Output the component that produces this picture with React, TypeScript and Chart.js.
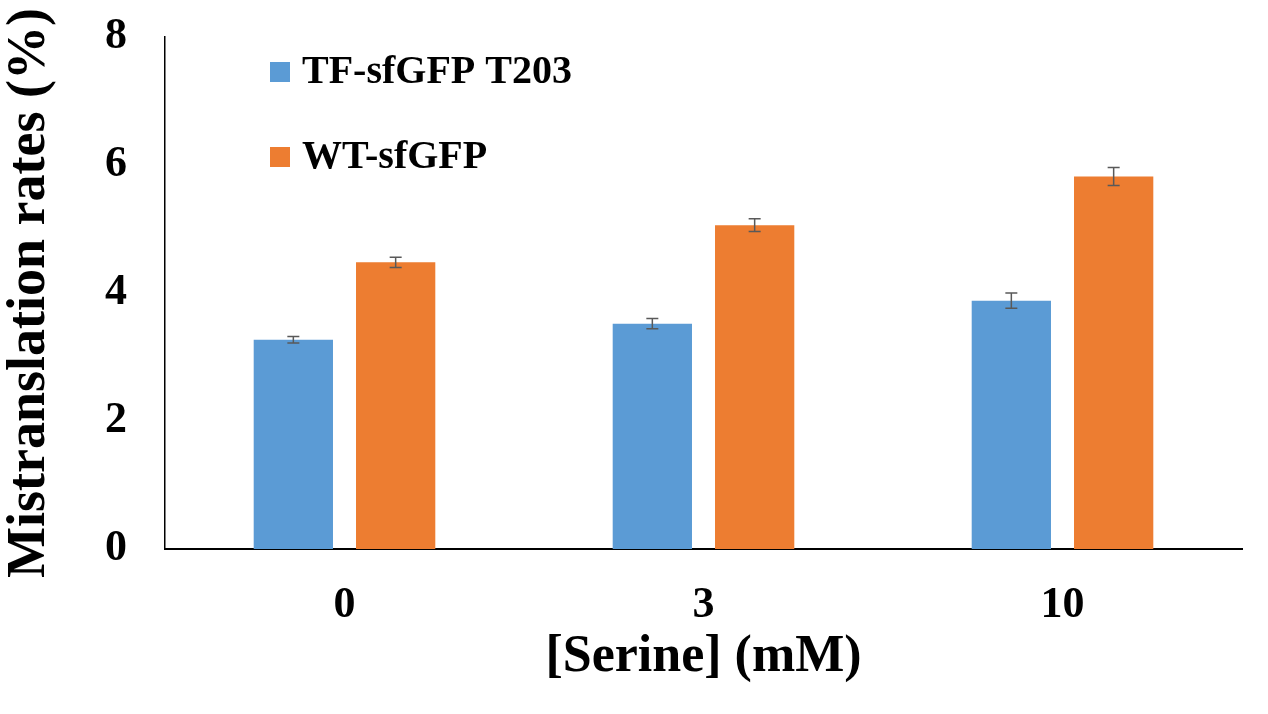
import React, { useRef, useEffect } from "react";
import { Chart, registerables } from "chart.js";

Chart.register(...registerables);

const categories = ["0", "3", "10"];
const seriesNames = ["TF-sfGFP T203", "WT-sfGFP"];
const tfValues = [3.27, 3.52, 3.88];
const tfErrors = [0.05, 0.08, 0.12];
const wtValues = [4.48, 5.06, 5.82];
const wtErrors = [0.08, 0.1, 0.14];
const yTicks = [0, 2, 4, 6, 8];

const FONT = "'Liberation Serif', 'Times New Roman', serif";

// barres d'erreur dessinées par-dessus les barres
const errorBarsPlugin = {
    id: "errorBars",
    afterDatasetsDraw(chart: any) {
        const ctx = chart.ctx;
        const y = chart.scales.y;
        chart.data.datasets.forEach((ds: any, i: number) => {
            const meta = chart.getDatasetMeta(i);
            const errs: number[] = ds.errors || [];
            meta.data.forEach((bar: any, j: number) => {
                const v = ds.data[j];
                const e = errs[j] || 0;
                const top = y.getPixelForValue(v + e);
                const bottom = y.getPixelForValue(v - e);
                const x = bar.x;
                ctx.save();
                ctx.strokeStyle = "#595959";
                ctx.lineWidth = 1.5;
                ctx.beginPath();
                ctx.moveTo(x, top);
                ctx.lineTo(x, bottom);
                ctx.moveTo(x - 6, top);
                ctx.lineTo(x + 6, top);
                ctx.moveTo(x - 6, bottom);
                ctx.lineTo(x + 6, bottom);
                ctx.stroke();
                ctx.restore();
            });
        });
    },
};

// légende verticale à l'intérieur du graphique
const insideLegendPlugin = {
    id: "insideLegend",
    afterDraw(chart: any) {
        const ctx = chart.ctx;
        const left = 270;
        const rows = [72, 157];
        ctx.save();
        ctx.font = `bold 40px ${FONT}`;
        ctx.textBaseline = "middle";
        chart.data.datasets.forEach((ds: any, i: number) => {
            const cy = rows[i];
            ctx.fillStyle = ds.backgroundColor;
            ctx.fillRect(left, cy - 10, 20, 20);
            ctx.fillStyle = "#000";
            ctx.fillText(ds.label, left + 32, cy + 1);
        });
        ctx.restore();
    },
};

const App: React.FC = () => {
    const chartRef = useRef<HTMLCanvasElement | null>(null);
    const chartInstanceRef = useRef<Chart | null>(null);

    useEffect(() => {
        if (!chartRef.current) return;
        if (chartInstanceRef.current) {
            chartInstanceRef.current.destroy();
        }

        chartInstanceRef.current = new Chart(chartRef.current, {
            type: "bar",
            data: {
                labels: categories,
                datasets: [
                    {
                        label: seriesNames[0],
                        data: tfValues,
                        errors: tfErrors,
                        backgroundColor: "#5B9BD5",
                        categoryPercentage: 0.57,
                        barPercentage: 0.775,
                    } as any,
                    {
                        label: seriesNames[1],
                        data: wtValues,
                        errors: wtErrors,
                        backgroundColor: "#ED7D31",
                        categoryPercentage: 0.57,
                        barPercentage: 0.775,
                    } as any,
                ],
            },
            options: {
                animation: false,
                responsive: true,
                maintainAspectRatio: false,
                layout: {
                    padding: { top: 37, right: 26, left: 0, bottom: 0 },
                },
                plugins: {
                    legend: { display: false },
                    tooltip: { enabled: false },
                },
                scales: {
                    x: {
                        grid: { display: false },
                        border: { display: true, color: "#000", width: 2 },
                        ticks: {
                            color: "#000",
                            padding: 22,
                            font: { family: FONT, size: 44, weight: "bold" },
                        },
                        title: {
                            display: true,
                            text: "[Serine] (mM)",
                            color: "#000",
                            font: { family: FONT, size: 52, weight: "bold", lineHeight: 1.2 },
                            padding: { top: 0, bottom: 25 },
                        },
                        afterFit: (scale: any) => {
                            scale.height = 165;
                        },
                    },
                    y: {
                        min: 0,
                        max: 8,
                        grid: { display: false },
                        border: { display: true, color: "#000", width: 1.5 },
                        afterBuildTicks: (scale: any) => {
                            scale.ticks = yTicks.map((v) => ({ value: v }));
                        },
                        ticks: {
                            color: "#000",
                            padding: 30,
                            font: { family: FONT, size: 44, weight: "bold" },
                        },
                        title: {
                            display: true,
                            text: "Mistranslation rates (%)",
                            color: "#000",
                            font: { family: FONT, size: 54, weight: "bold", lineHeight: 1.1 },
                            padding: { top: 0, bottom: 0 },
                        },
                        afterFit: (scale: any) => {
                            scale.width = 165;
                            // le haut de la zone suit le padding du layout, pas les étiquettes
                            scale.paddingTop = 0;
                            scale.paddingBottom = 0;
                        },
                    },
                },
            } as any,
            plugins: [errorBarsPlugin, insideLegendPlugin],
        });

        return () => {
            if (chartInstanceRef.current) {
                chartInstanceRef.current.destroy();
                chartInstanceRef.current = null;
            }
        };
    }, []);

    return (
        <div
            style={{
                position: "absolute",
                left: 0,
                top: 0,
                width: 1268,
                height: 714,
                background: "#fff",
            }}
        >
            <canvas ref={chartRef} />
        </div>
    );
};

export default App;
